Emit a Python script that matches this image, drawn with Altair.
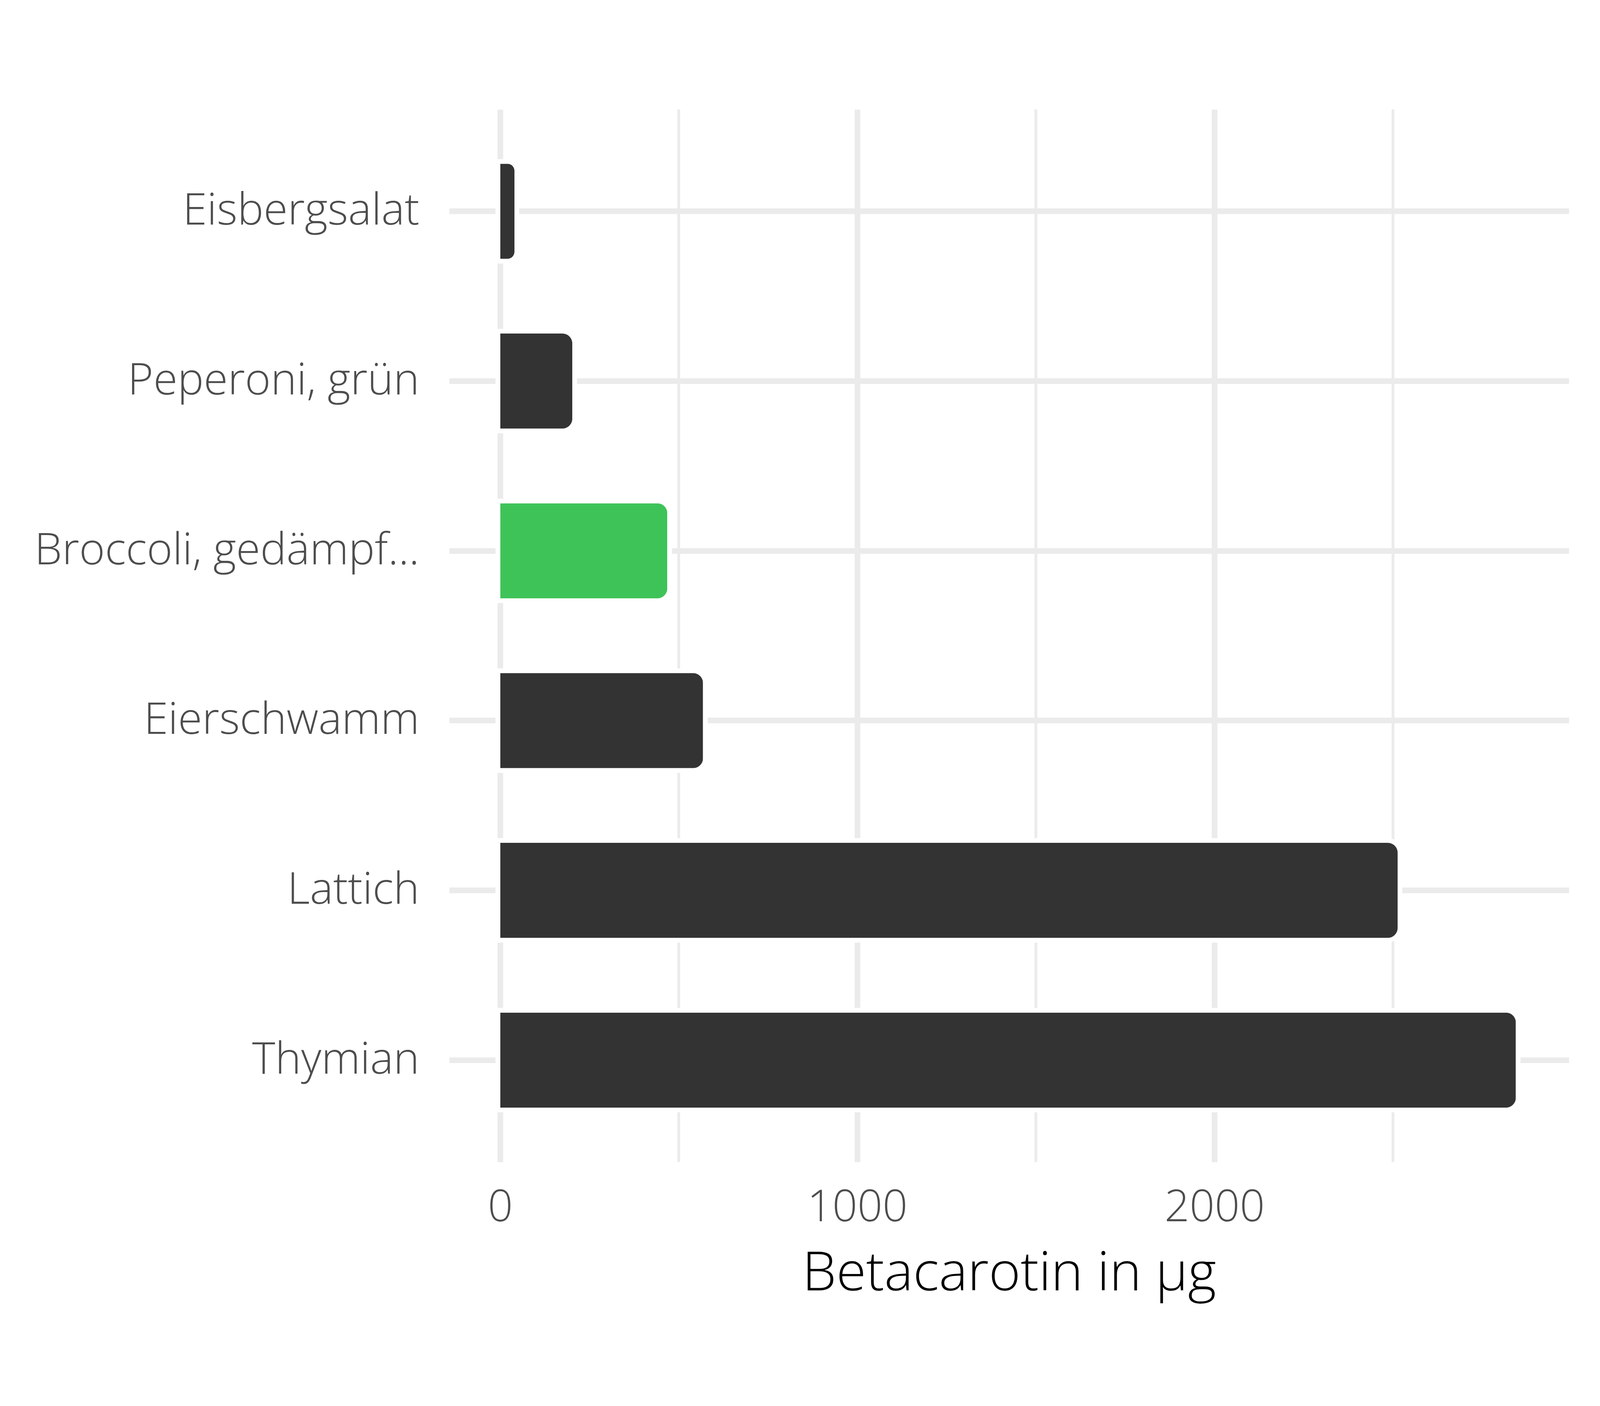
import altair as alt
import pandas as pd

# Data
categories = ["Eisbergsalat", "Peperoni, grün", "Broccoli, gedämpf...", "Eierschwamm", "Lattich", "Thymian"]
values = [40, 202, 468, 568, 2513, 2844]
highlight = "Broccoli, gedämpf..."
major_ticks = [0, 1000, 2000]
minor_ticks = [500, 1500, 2500]
x_domain = [-142.7, 2992.5]

df = pd.DataFrame({"name": categories, "value": values})
minor_df = pd.DataFrame({"v": minor_ticks})

FONT = "Open Sans"
GRID = "#EBEBEB"

x_axis = alt.Axis(
    values=major_ticks, format="d", grid=True, gridColor=GRID, gridWidth=17,
    ticks=False, tickSize=0, domain=False,
    labelFont=FONT, labelFontSize=132, labelFontWeight=300, labelColor="#4D4D4D",
    labelPadding=74, labelFlush=False, labelLimit=0,
    title="Betacarotin in µg", titleFont=FONT, titleFontSize=163, titleFontWeight=300,
    titleColor="#000000", titlePadding=56,
)
x_scale = alt.Scale(domain=x_domain, nice=False, zero=False)
y_scale = alt.Scale(domain=categories, paddingInner=0.44, paddingOuter=0.32)
y_axis = alt.Axis(
    grid=True, gridColor=GRID, gridWidth=17, bandPosition=0.5,
    ticks=False, tickSize=0, domain=False,
    labelFont=FONT, labelFontSize=132, labelFontWeight=300, labelColor="#4D4D4D",
    labelPadding=90, title=None, labelLimit=0,
)

minor = alt.Chart(minor_df).mark_rule(color=GRID, strokeWidth=8.5).encode(
    x=alt.X("v:Q", scale=x_scale, axis=x_axis)
)

halo = alt.Chart(df).mark_bar(
    color="white", stroke="white", strokeWidth=28, cornerRadiusEnd=30
).encode(
    x=alt.X("value:Q", scale=x_scale, axis=x_axis),
    y=alt.Y("name:N", scale=y_scale, axis=y_axis, sort=categories),
)

bars = alt.Chart(df).mark_bar(cornerRadiusEnd=30).encode(
    x=alt.X("value:Q", scale=x_scale, axis=x_axis),
    y=alt.Y("name:N", scale=y_scale, axis=y_axis, sort=categories),
    color=alt.condition(alt.datum.name == highlight, alt.value("#3EC358"), alt.value("#333333")),
)

chart = alt.layer(minor, halo, bars).properties(
    width=3361, height=3160,
    autosize=alt.AutoSizeParams(type="none"),
    padding={"left": 1339, "top": 10, "right": 84, "bottom": 414},
    background="white",
).configure_view(stroke=None)

chart.save("out.html", embed_options={"renderer": "svg", "actions": False})
